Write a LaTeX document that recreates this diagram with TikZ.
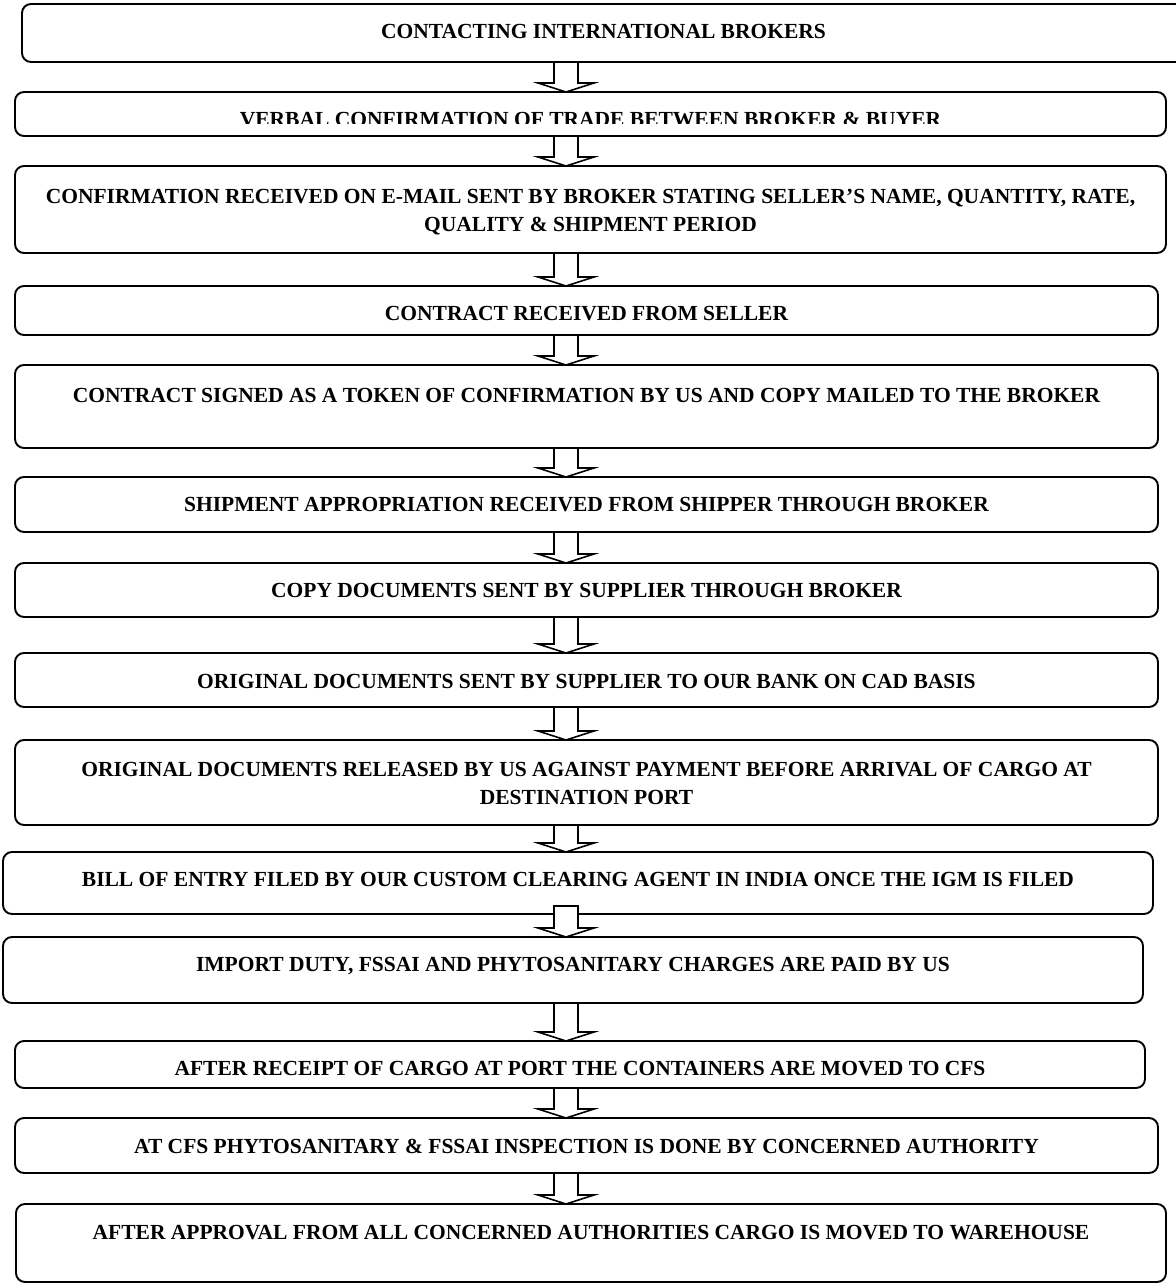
\documentclass[tikz,border=0pt]{standalone}
\usepackage{fontspec}
\setmainfont{Liberation Serif}
\usetikzlibrary{calc}
\tikzset{
  stepbox/.style={draw, line width=1.9pt, rounded corners=9pt, inner sep=0pt, outer sep=0pt},
  steptext/.style={anchor=north, inner sep=0pt, align=center, font=\fontsize{21.5}{28}\selectfont\bfseries},
  blockarrow/.style={draw, fill=white, line width=1.6pt, line join=miter}
}
\newcommand\barrow[3][0]{%
  \draw[blockarrow] let \p1=(#2.south), \p2=(#3.north) in
    (554pt,\y1+#1pt) -- (554pt,\y2+9pt) -- (538pt,\y2+9pt) -- (566pt,\y2)
    -- (594pt,\y2+9pt) -- (578pt,\y2+9pt) -- (578pt,\y1+#1pt) -- cycle;}
\begin{document}
\begin{tikzpicture}[x=1pt,y=-1pt]
\useasboundingbox (0,0) rectangle (1175,1284);
\fill[white] (0,0) rectangle (1175,1284);
% boxes
\node[stepbox, minimum width=1163pt, minimum height=58pt] (b1) at (603.5,33) {};
\node[stepbox, minimum width=1151pt, minimum height=44pt] (b2) at (590.5,114) {};
\node[stepbox, minimum width=1151pt, minimum height=87pt] (b3) at (590.5,209.5) {};
\node[stepbox, minimum width=1143pt, minimum height=49pt] (b4) at (586.5,310.5) {};
\node[stepbox, minimum width=1143pt, minimum height=83pt] (b5) at (586.5,406.5) {};
\node[stepbox, minimum width=1143pt, minimum height=55pt] (b6) at (586.5,504.5) {};
\node[stepbox, minimum width=1143pt, minimum height=54pt] (b7) at (586.5,590) {};
\node[stepbox, minimum width=1143pt, minimum height=54pt] (b8) at (586.5,680) {};
\node[stepbox, minimum width=1143pt, minimum height=85pt] (b9) at (586.5,782.5) {};
\node[stepbox, minimum width=1150pt, minimum height=62pt] (b10) at (578,883) {};
\node[stepbox, minimum width=1140pt, minimum height=66pt] (b11) at (573,970) {};
\node[stepbox, minimum width=1130pt, minimum height=47pt] (b12) at (580,1064.5) {};
\node[stepbox, minimum width=1143pt, minimum height=55pt] (b13) at (586.5,1145.5) {};
\node[stepbox, minimum width=1150pt, minimum height=78pt] (b14) at (591,1243) {};
% texts
\node[steptext] (t1) at (603.5,24) {CONTACTING INTERNATIONAL BROKERS};
\begin{scope}
\clip (0,0) rectangle (1175,123.5);
\node[steptext] (t2) at (590.5,112) {VERBAL CONFIRMATION OF TRADE BETWEEN BROKER \& BUYER};
\end{scope}
\node[steptext] (t3) at (590.5,189) {CONFIRMATION RECEIVED ON E-MAIL SENT BY BROKER STATING SELLER’S NAME, QUANTITY, RATE,\\QUALITY \& SHIPMENT PERIOD};
\node[steptext] (t4) at (586.5,306) {CONTRACT RECEIVED FROM SELLER};
\node[steptext] (t5) at (586.5,388) {CONTRACT SIGNED AS A TOKEN OF CONFIRMATION BY US AND COPY MAILED TO THE BROKER};
\node[steptext] (t6) at (586.5,497) {SHIPMENT APPROPRIATION RECEIVED FROM SHIPPER THROUGH BROKER};
\node[steptext] (t7) at (586.5,583) {COPY DOCUMENTS SENT BY SUPPLIER THROUGH BROKER};
\node[steptext] (t8) at (586.5,674) {ORIGINAL DOCUMENTS SENT BY SUPPLIER TO OUR BANK ON CAD BASIS};
\node[steptext] (t9) at (586.5,762) {ORIGINAL DOCUMENTS RELEASED BY US AGAINST PAYMENT BEFORE ARRIVAL OF CARGO AT\\DESTINATION PORT};
\node[steptext] (t10) at (578,872) {BILL OF ENTRY FILED BY OUR CUSTOM CLEARING AGENT IN INDIA ONCE THE IGM IS FILED};
\node[steptext] (t11) at (573,957) {IMPORT DUTY, FSSAI AND PHYTOSANITARY CHARGES ARE PAID BY US};
\node[steptext] (t12) at (580,1061) {AFTER RECEIPT OF CARGO AT PORT THE CONTAINERS ARE MOVED TO CFS};
\node[steptext] (t13) at (586.5,1139) {AT CFS PHYTOSANITARY \& FSSAI INSPECTION IS DONE BY CONCERNED AUTHORITY};
\node[steptext] (t14) at (591,1225) {AFTER APPROVAL FROM ALL CONCERNED AUTHORITIES CARGO IS MOVED TO WAREHOUSE};
% arrows
\barrow{b1}{b2}
\barrow{b2}{b3}
\barrow{b3}{b4}
\barrow{b4}{b5}
\barrow{b5}{b6}
\barrow{b6}{b7}
\barrow{b7}{b8}
\barrow{b8}{b9}
\barrow{b9}{b10}
\barrow[8]{b10}{b11}
\barrow{b11}{b12}
\barrow{b12}{b13}
\barrow{b13}{b14}
\end{tikzpicture}
\end{document}
